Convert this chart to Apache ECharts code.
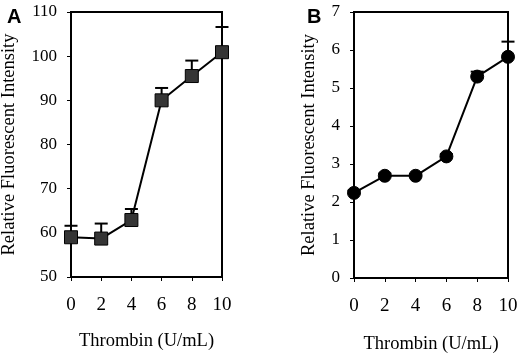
<!DOCTYPE html>
<html><head><meta charset="utf-8">
<script src="https://cdn.jsdelivr.net/npm/echarts@6/dist/echarts.min.js"></script>
<style>html,body{margin:0;padding:0;background:#fff}#c{width:520px;height:355px}</style>
</head><body><div id="c"></div>
<script>
const thrombin = [0, 2, 4, 6, 8, 10];
const intensityA = [59.0, 58.7, 62.9, 90.0, 95.5, 100.9];
const errTopA = [61.6, 62.1, 65.4, 92.8, 99.0, 106.6];
const intensityB = [2.24, 2.69, 2.69, 3.2, 5.3, 5.82];
const errTopB = [2.3, 2.75, 2.74, 3.26, 5.43, 6.22];
const yTitle = 'Relative Fluorescent Intensity';
const xTitle = 'Thrombin (U/mL)';

const serif = 'Liberation Serif';
const chart = echarts.init(document.getElementById('c'));

function pairs(xs, ys){ return xs.map((x,i)=>[x, ys[i]]); }
function errData(xs, ys, tops){ return xs.map((x,i)=>[x, ys[i], tops[i]]); }
function errSeries(idx, data){
  return {
    type:'custom', xAxisIndex:idx, yAxisIndex:idx, z:1, silent:true,
    data: data,
    renderItem:function(params, api){
      const p0 = api.coord([api.value(0), api.value(1)]);
      const p1 = api.coord([api.value(0), api.value(2)]);
      const hw = 6.5;
      return {type:'group', children:[
        {type:'line', shape:{x1:p0[0], y1:p0[1], x2:p1[0], y2:p1[1]}, style:{stroke:'#000', lineWidth:2}},
        {type:'line', shape:{x1:p1[0]-hw, y1:p1[1], x2:p1[0]+hw, y2:p1[1]}, style:{stroke:'#000', lineWidth:2}}
      ]};
    }
  };
}
function xAx(idx, gap){
  return {gridIndex:idx, type:'value', min:0, max:10, interval:2,
    name:xTitle, nameLocation:'middle', nameGap:gap,
    nameTextStyle:{fontFamily:serif, fontSize:18.5, color:'#000'},
    axisLine:{show:true, onZero:false, lineStyle:{color:'#000', width:2}},
    axisTick:{show:true, length:4, lineStyle:{color:'#000', width:1}},
    axisLabel:{fontFamily:serif, fontSize:19, color:'#000', margin:19},
    splitLine:{show:false}};
}
function yAx(idx, min, max, interval, gap){
  return {gridIndex:idx, type:'value', min:min, max:max, interval:interval,
    name:yTitle, nameLocation:'middle', nameGap:gap,
    nameTextStyle:{fontFamily:serif, fontSize:18.5, color:'#000'},
    axisLine:{show:true, lineStyle:{color:'#000', width:2}},
    axisTick:{show:true, length:4, lineStyle:{color:'#000', width:1}},
    axisLabel:{fontFamily:serif, fontSize:17, color:'#000', margin:14},
    splitLine:{show:false}};
}
chart.setOption({
  animation:false,
  backgroundColor:'#fff',
  title:[
    {text:'A', left:2, top:2, textStyle:{fontFamily:'Liberation Sans', fontWeight:'bold', fontSize:20, color:'#000'}},
    {text:'B', left:302, top:2, textStyle:{fontFamily:'Liberation Sans', fontWeight:'bold', fontSize:20, color:'#000'}}
  ],
  grid:[
    {left:71, top:12, width:151, height:265, outerBoundsMode:'none', containLabel:false, show:true, borderColor:'#000', borderWidth:2, backgroundColor:'transparent'},
    {left:354, top:12, width:154, height:266, outerBoundsMode:'none', containLabel:false, show:true, borderColor:'#000', borderWidth:2, backgroundColor:'transparent'}
  ],
  xAxis:[xAx(0, 55), xAx(1, 57)],
  yAxis:[yAx(0, 50, 110, 10, 52), yAx(1, 0, 7, 1, 35)],
  series:[
    errSeries(0, errData(thrombin, intensityA, errTopA)),
    {type:'line', xAxisIndex:0, yAxisIndex:0, z:3, data:pairs(thrombin, intensityA),
      symbol:'rect', symbolSize:13, lineStyle:{color:'#000', width:2},
      itemStyle:{color:'#353535', borderColor:'#000', borderWidth:1}},
    errSeries(1, errData(thrombin, intensityB, errTopB)),
    {type:'line', xAxisIndex:1, yAxisIndex:1, z:3, data:pairs(thrombin, intensityB),
      symbol:'circle', symbolSize:13, lineStyle:{color:'#000', width:2},
      itemStyle:{color:'#000', borderColor:'#000', borderWidth:1}}
  ]
});
</script></body></html>
